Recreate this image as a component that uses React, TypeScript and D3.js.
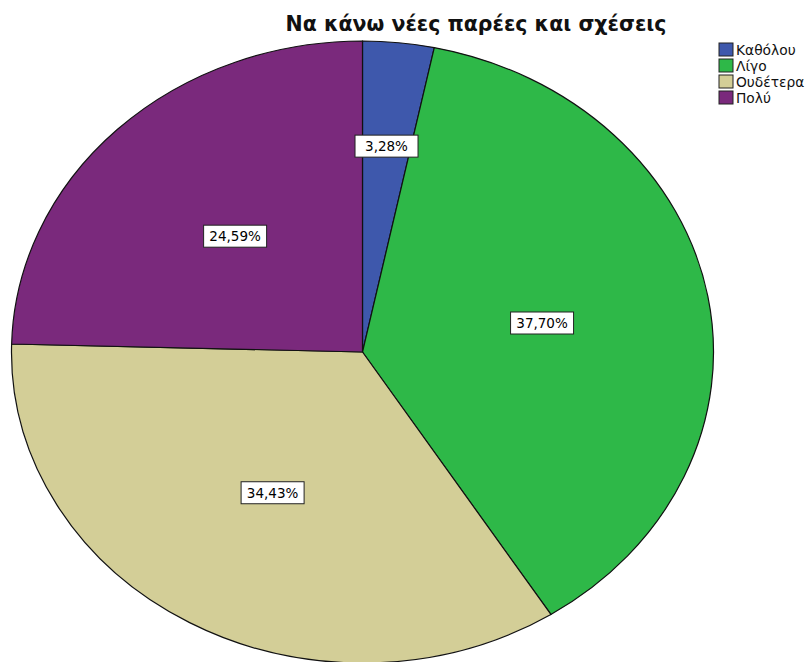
import React from "react";
import * as d3 from "d3";

const title = "Να κάνω νέες παρέες και σχέσεις";
const categories = ["Καθόλου", "Λίγο", "Ουδέτερα", "Πολύ"];
const counts = [2, 23, 21, 15];
const colors = ["#3E58AC", "#2EB848", "#D3CE97", "#7A297C"];

const W = 809;
const H = 662;
const cx = 362.5;
const cy = 352;
const rx = 351;
const ry = 311;
const R = 100;

export default function App() {
  const total = d3.sum(counts);
  const pie = d3.pie<number>().sort(null).value((d) => d);
  const arcs = pie(counts);
  const arc = d3.arc<d3.PieArcDatum<number>>().innerRadius(0).outerRadius(R);
  const fmt = (v: number) => (v * 100).toFixed(2).replace(".", ",") + "%";

  return (
    <svg width={W} height={H} style={{ position: "absolute", left: 0, top: 0, background: "#fff" }}
      fontFamily="'DejaVu Sans', Verdana, sans-serif">
      <g transform={`translate(${cx},${cy}) scale(${rx / R},${ry / R})`}>
        {arcs.map((a, i) => (
          <path key={i} d={arc(a) || ""} fill={colors[i]} stroke="#111" strokeWidth={1.2}
            vectorEffect="non-scaling-stroke" />
        ))}
      </g>
      {arcs.map((a, i) => {
        const mid = (a.startAngle + a.endAngle) / 2;
        const half = (a.endAngle - a.startAngle) / 2;
        let f = (2 * Math.sin(half)) / (3 * half);
        if (a.data / total > 0.1) f = Math.min(f, 0.52);
        const x = cx + rx * Math.sin(mid) * f;
        const y = cy - ry * Math.cos(mid) * f;
        const bw = 63, bh = 22;
        return (
          <g key={i}>
            <rect x={x - bw / 2} y={y - bh / 2} width={bw} height={bh} fill="#fff" stroke="#222" strokeWidth={1} />
            <text x={x} y={y + 5} textAnchor="middle" fontSize={13.5} fill="#000">{fmt(a.data / total)}</text>
          </g>
        );
      })}
      <text x={476} y={31} textAnchor="middle" fontSize={20.5} fontWeight="bold" fill="#111">{title}</text>
      {categories.map((c, i) => (
        <g key={c} transform={`translate(719,${43 + i * 16})`}>
          <rect x={0} y={0} width={14} height={13} fill={colors[i]} stroke="#222" strokeWidth={1} />
          <text x={17} y={12} fontSize={13.8} fill="#111">{c}</text>
        </g>
      ))}
    </svg>
  );
}
